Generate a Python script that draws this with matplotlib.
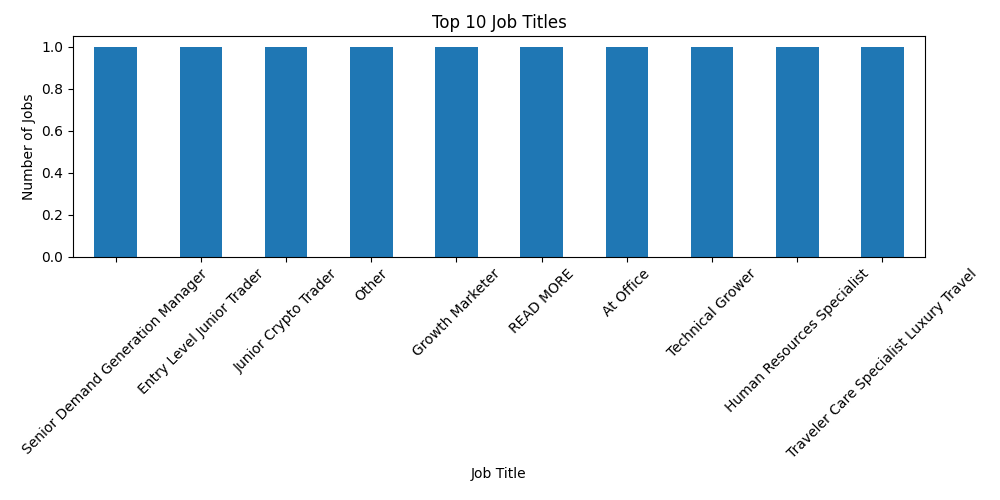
import matplotlib
matplotlib.use("Agg")
import matplotlib.pyplot as plt
import pandas as pd

job_titles = ["Senior Demand Generation Manager", "Entry Level Junior Trader",
              "Junior Crypto Trader", "Other", "Growth Marketer", "READ MORE",
              "At Office", "Technical Grower", "Human Resources Specialist",
              "Traveler Care Specialist Luxury Travel"]
job_counts = [1, 1, 1, 1, 1, 1, 1, 1, 1, 1]

counts = pd.Series(job_counts, index=job_titles)

plt.figure(figsize=(10, 5), dpi=100)
counts.plot(kind="bar", color="#1f77b4")
plt.title("Top 10 Job Titles")
plt.xlabel("Job Title")
plt.ylabel("Number of Jobs")
plt.xticks(rotation=45)
plt.subplots_adjust(left=0.073, right=0.925, top=0.928, bottom=0.486)
plt.savefig("out.png")
